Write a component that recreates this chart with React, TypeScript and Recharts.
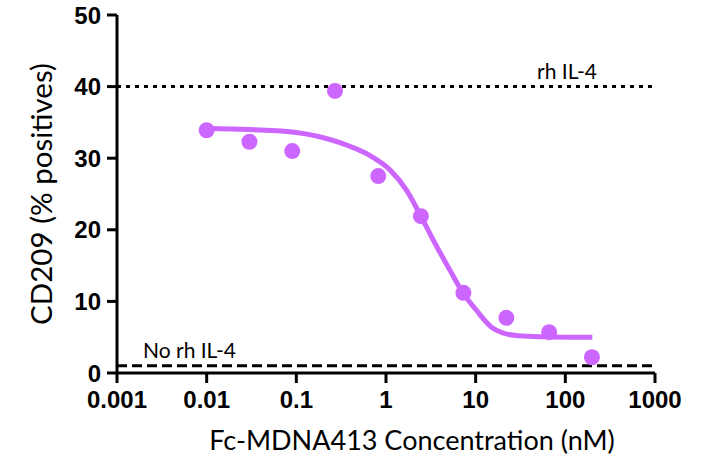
import { ComposedChart, Line, Scatter, XAxis, YAxis, ReferenceLine } from "recharts"

// concentrations (nM) and measured CD209 % positives
const doses = [0.01, 0.03, 0.09, 0.27, 0.82, 2.45, 7.3, 22, 66, 198]
const positives = [33.9, 32.3, 31.0, 39.4, 27.5, 21.9, 11.2, 7.7, 5.7, 2.2]

// fitted curve
const fitDoses = [0.01, 0.03, 0.1, 0.3, 0.7, 1.1, 1.7, 2.4, 3.7, 5.2, 7.2, 10, 15, 20, 30, 60, 100, 200]
const fitValues = [34.2, 34.0, 33.6, 32.2, 30.2, 28.4, 25.5, 22.1, 17.6, 14.3, 11.2, 8.9, 6.4, 5.6, 5.2, 5.05, 5.0, 5.0]

const xTicks = [0.001, 0.01, 0.1, 1, 10, 100, 1000]
const xTickLabels = ["0.001", "0.01", "0.1", "1", "10", "100", "1000"]
const yTicks = [0, 10, 20, 30, 40, 50]

const withIL4 = 40
const withoutIL4 = 1

const points = doses.map((x, i) => ({ x, y: positives[i] }))
const curve = fitDoses.map((x, i) => ({ x, y: fitValues[i] }))

const purple = "#cc66ff"
const tickFont = { fontFamily: "Liberation Sans, Arial, sans-serif", fontWeight: 700, fontSize: 24, fill: "#000" }
const textFont = "Lato, 'Open Sans', sans-serif"

const Dot = (props: any) => <circle cx={props.cx} cy={props.cy} r={8} fill={purple} />

const XTitle = ({ viewBox }: any) => (
  <text x={viewBox.x + viewBox.width / 2 + 26} y={viewBox.y + 77} textAnchor="middle" fontFamily={textFont} fontSize={27} fill="#000">
    Fc-MDNA413 Concentration (nM)
  </text>
)

const YTitle = ({ viewBox }: any) => {
  const cx = viewBox.x + 40
  const cy = viewBox.y + viewBox.height / 2
  return (
    <text x={cx} y={cy} transform={`rotate(-90 ${cx} ${cy})`} textAnchor="middle" dominantBaseline="central" fontFamily={textFont} fontSize={29.5} fill="#000">
      CD209 (% positives)
    </text>
  )
}

const RightNote = ({ viewBox }: any) => (
  <text x={viewBox.x + viewBox.width - 58} y={viewBox.y - 8} textAnchor="end" fontFamily={textFont} fontSize={21} fill="#000">
    rh IL-4
  </text>
)

const LeftNote = ({ viewBox }: any) => (
  <text x={viewBox.x + 26} y={viewBox.y - 8} textAnchor="start" fontFamily={textFont} fontSize={21} fill="#000">
    No rh IL-4
  </text>
)

export default function App() {
  return (
    <div style={{ position: "absolute", left: 0, top: 0, background: "#fff" }}>
      <ComposedChart width={707} height={466} margin={{ top: 15, right: 52, left: 0, bottom: 0 }}>
        <XAxis
          dataKey="x"
          type="number"
          scale="log"
          domain={[0.001, 1000]}
          ticks={xTicks}
          tickFormatter={(v) => xTickLabels[xTicks.indexOf(v)] ?? String(v)}
          allowDataOverflow
          height={93}
          tickSize={10}
          tick={{ ...tickFont, dy: 6 }}
          stroke="#000"
          strokeWidth={3}
          tickLine={{ stroke: "#000", strokeWidth: 3 }}
          label={<XTitle />}
        />
        <YAxis
          dataKey="y"
          type="number"
          domain={[0, 50]}
          ticks={yTicks}
          width={117}
          tickSize={10}
          tick={{ ...tickFont, dx: -4 }}
          stroke="#000"
          strokeWidth={3}
          tickLine={{ stroke: "#000", strokeWidth: 3 }}
          label={<YTitle />}
        />
        <ReferenceLine y={withIL4} stroke="#000" strokeWidth={3} strokeDasharray="4 5" label={<RightNote />} />
        <ReferenceLine y={withoutIL4} stroke="#000" strokeWidth={3} strokeDasharray="10 5" label={<LeftNote />} />
        <Line
          data={curve}
          dataKey="y"
          type="monotone"
          stroke={purple}
          strokeWidth={5}
          dot={false}
          activeDot={false}
          isAnimationActive={false}
        />
        <Scatter data={points} dataKey="y" fill={purple} shape={Dot} isAnimationActive={false} />
      </ComposedChart>
    </div>
  )
}
